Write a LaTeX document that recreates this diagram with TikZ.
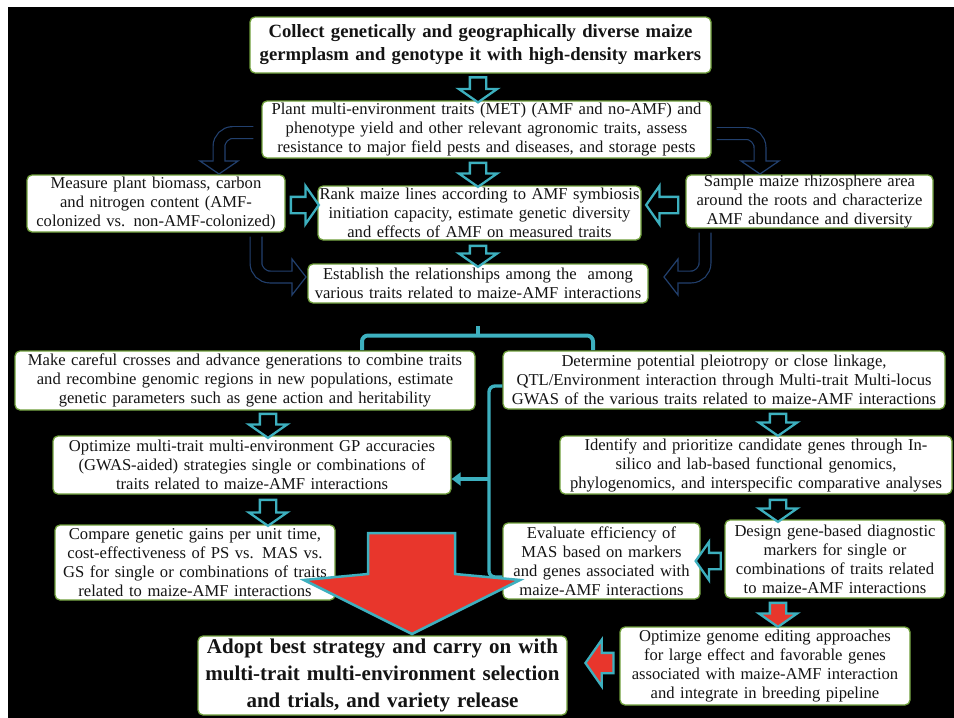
\documentclass[tikz,border=0pt]{standalone}
\usepackage{fontspec}
\setmainfont{Liberation Serif}
\usetikzlibrary{shapes.arrows,calc,arrows.meta}
\definecolor{cy}{HTML}{3DB0BF}
\definecolor{nv}{HTML}{22406E}
\definecolor{gr}{HTML}{6E9E3A}
\definecolor{rd}{HTML}{E8362C}
\definecolor{tx}{HTML}{141414}
\begin{document}
\begin{tikzpicture}[x=1pt,y=-1pt,
 box/.style={draw=gr, line width=1.3pt, fill=white, rounded corners=5pt, align=center, text=tx,
   font=\fontsize{16.6}{19}\selectfont, inner sep=0pt},
 boldbox/.style={box, font=\fontsize{18.7}{23}\selectfont\bfseries},
 bigbox/.style={box, font=\fontsize{21}{27}\selectfont\bfseries},
 harrow/.style={single arrow, draw=cy, line width=2.3pt, fill=black, inner xsep=0pt, inner ysep=7pt,
   single arrow head extend=11pt, single arrow tip angle=110, minimum height=#1},
 rarrow/.style={harrow=#1, fill=rd},
 nvo/.style={nv, line width=13pt, rounded corners=14pt},
 nvi/.style={black, line width=10.6pt, rounded corners=14pt},
 nvh/.style={fill=black, draw=nv, line width=1.2pt, line join=miter},
 cyl/.style={cy, line width=3.4pt, rounded corners=6pt},
]
\useasboundingbox (0,0) rectangle (954,718);
\fill[white] (0,0) rectangle (954,718);
\fill[black] (8,7) rectangle (954,718);

% boxes
\node[boldbox, minimum width=461pt, minimum height=56pt, text width=459pt] (A) at (480.5,45)
 {Collect genetically and geographically diverse maize\\germplasm and genotype it with high-density markers};
\node[box, minimum width=449pt, minimum height=57pt, text width=447pt] (B) at (486.5,129.5)
 {Plant multi-environment traits (MET) (AMF and no-AMF) and\\phenotype yield and other relevant agronomic traits, assess\\resistance to major field pests and diseases, and storage pests};
\node[box, minimum width=258pt, minimum height=57pt, text width=256pt] (C) at (156,203.5)
 {Measure plant biomass, carbon\\and nitrogen content (AMF-\\colonized vs. non-AMF-colonized)};
\node[box, minimum width=323pt, minimum height=54pt, text width=321pt] (D) at (479.5,213)
 {Rank maize lines according to AMF symbiosis\\initiation capacity, estimate genetic diversity\\and effects of AMF on measured traits};
\node[box, minimum width=247pt, minimum height=53pt, text width=245pt] (E) at (809.5,201.5)
 {Sample maize rhizosphere area\\around the roots and characterize\\AMF abundance and diversity};
\node[box, minimum width=340pt, minimum height=39pt, text width=338pt] (F) at (478,283.5)
 {Establish the relationships among the~~among\\various traits related to maize-AMF interactions};
\node[box, minimum width=460pt, minimum height=59pt, text width=458pt] (G) at (245,380.5)
 {Make careful crosses and advance generations to combine traits\\and recombine genomic regions in new populations, estimate\\genetic parameters such as gene action and heritability};
\node[box, minimum width=442pt, minimum height=58pt, text width=440pt] (H) at (724,380)
 {Determine potential pleiotropy or close linkage,\\QTL/Environment interaction through Multi-trait Multi-locus\\GWAS of the various traits related to maize-AMF interactions};
\node[box, minimum width=398pt, minimum height=58pt, text width=396pt] (I) at (252,465)
 {Optimize multi-trait multi-environment GP accuracies\\(GWAS-aided) strategies single or combinations of\\traits related to maize-AMF interactions};
\node[box, minimum width=392pt, minimum height=58pt, text width=390pt] (J) at (756,465)
 {Identify and prioritize candidate genes through In-\\silico and lab-based functional genomics,\\phylogenomics, and interspecific comparative analyses};
\node[box, minimum width=280pt, minimum height=75pt, text width=278pt] (L) at (195,562.5)
 {Compare genetic gains per unit time,\\cost-effectiveness of PS vs. MAS vs.\\GS for single or combinations of traits\\related to maize-AMF interactions};
\node[box, minimum width=197pt, minimum height=76pt, text width=195pt] (K) at (601.5,561)
 {Evaluate efficiency of\\MAS based on markers\\and genes associated with\\maize-AMF interactions};
\node[box, minimum width=220pt, minimum height=78pt, text width=218pt] (M) at (835,559)
 {Design gene-based diagnostic\\markers for single or\\combinations of traits related\\to maize-AMF interactions};
\node[bigbox, minimum width=369pt, minimum height=79pt, text width=367pt] (N) at (382.5,675.5)
 {Adopt best strategy and carry on with\\multi-trait multi-environment selection\\and trials, and variety release};
\node[box, minimum width=290pt, minimum height=78pt, text width=288pt] (O) at (765,666)
 {Optimize genome editing approaches\\for large effect and favorable genes\\associated with maize-AMF interaction\\and integrate in breeding pipeline};

% straight hollow arrows
\node[harrow=25pt, rotate=-90] (aAB) at (478,87) {};
\node[harrow=24pt, rotate=-90] (aBD) at (478,172) {};
\node[harrow=21pt, rotate=-90] (aDF) at (478,253.5) {};
\node[harrow=28pt] (aCD) at (302,205) {};
\node[harrow=32pt, rotate=180] (aED) at (665,205) {};
\node[harrow=24pt, rotate=-90] (aGI) at (268,423) {};
\node[harrow=22pt, rotate=-90] (aHJ) at (778,422) {};
\node[harrow=26pt, rotate=-90] (aIL) at (268,510) {};
\node[harrow=22pt, rotate=-90] (aJM) at (778,508) {};
\node[harrow=25pt, rotate=180] (aMK) at (711,561) {};
\node[rarrow=24pt, rotate=-90] (aMO) at (778,612) {};
\node[rarrow=28pt, rotate=180, inner ysep=9pt, single arrow head extend=13pt] (aON) at (603,663) {};

% navy curved arrows
\coordinate (bc1) at ($(B.west)+(-8,3)$);
\coordinate (bc2) at (219,161);
\draw[nvo] (bc1) -| (bc2);
\draw[nvh] (200,161) -- (219,174) -- (238,161) -- cycle;
\draw[nvi] ($(bc1)+(1.2,0)$) -| (219,163);

\coordinate (be1) at ($(B.east)+(5,4)$);
\coordinate (be2) at (760,161);
\draw[nvo] (be1) -| (be2);
\draw[nvh] (741,161) -- (760,174) -- (779,161) -- cycle;
\draw[nvi] ($(be1)+(-1.2,0)$) -| (760,163);

\coordinate (cf1) at ($(C.south)+(100,4)$);
\coordinate (cf2) at (292,277);
\draw[nvo] (cf1) |- (cf2);
\draw[nvh] (292,259) -- (306,277) -- (292,295) -- cycle;
\draw[nvi] ($(cf1)+(0,-1.2)$) |- (294,277);

\coordinate (ef1) at ($(E.south)+(-104.5,4)$);
\coordinate (ef2) at (678,277);
\draw[nvo] (ef1) |- (ef2);
\draw[nvh] (678,259) -- (664,277) -- (678,295) -- cycle;
\draw[nvi] ($(ef1)+(0,-1.2)$) |- (676,277);

% bracket from F to G and H
\coordinate (brL) at (362,350);
\coordinate (brR) at (593,350);
\coordinate (brT) at (478,326);
\draw[cyl, line width=4pt] (brL) |- (brR |- 0,335.5) -- (brR);
\draw[cy, line width=4pt] (brT) -- (478,336);

% big red arrow
\draw[fill=rd, draw=cy, line width=2.5pt, line join=miter]
 (368,533) -- (455,533) -- (455,574) -- (520,580) -- (412,634) -- (304,580) -- (368,574) -- cycle;

% cyan line from H to K with branch to I
\coordinate (hk1) at (H.west |- 0,386);
\coordinate (hk2) at (K.west |- 0,577);
\draw[cyl] (hk1) -- (489,386) -- (489,577) -- (hk2);
\draw[cy, line width=3.4pt, -{Triangle[width=13pt,length=9pt]}] (489,479) -- (I.east |- 0,479);
\end{tikzpicture}
\end{document}
